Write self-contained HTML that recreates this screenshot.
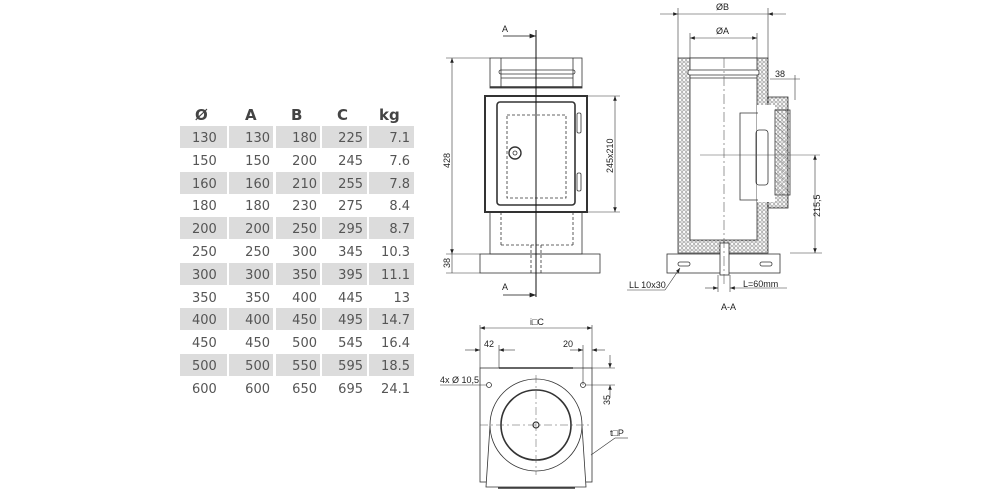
<!DOCTYPE html>
<html><head><meta charset="utf-8"><style>
html,body{margin:0;padding:0;background:#fff;width:1000px;height:500px;overflow:hidden}
svg{display:block}
.h{font:bold 15px "DejaVu Sans","Liberation Sans",sans-serif;fill:#444}
.t{font:13px "DejaVu Sans","Liberation Sans",sans-serif;fill:#555}
.d{font:9px "Liberation Sans",sans-serif;fill:#222}
</style></head><body>
<svg width="1000" height="500" viewBox="0 0 1000 500" xmlns="http://www.w3.org/2000/svg">
<defs>
<pattern id="ins" width="4" height="4" patternUnits="userSpaceOnUse">
<rect width="4" height="4" fill="#fff"/><circle cx="2" cy="2" r="1.3" fill="none" stroke="#777" stroke-width="0.6"/></pattern>
<pattern id="hat" width="6" height="6" patternUnits="userSpaceOnUse" patternTransform="rotate(-50)">
<line x1="0" y1="0" x2="0" y2="6" stroke="#555" stroke-width="0.7"/></pattern>
<marker id="ar" markerWidth="8" markerHeight="6" refX="8" refY="3" orient="auto-start-reverse"><path d="M0,0 L8,3 L0,6z" fill="#222"/></marker>
</defs>

<!-- TABLE -->
<g fill="#dcdcdc">
<rect x="180" y="126" width="47" height="22"/><rect x="229" y="126" width="44" height="22"/><rect x="276" y="126" width="44" height="22"/><rect x="322" y="126" width="45" height="22"/><rect x="369" y="126" width="45" height="22"/>
<rect x="180" y="172" width="47" height="22"/><rect x="229" y="172" width="44" height="22"/><rect x="276" y="172" width="44" height="22"/><rect x="322" y="172" width="45" height="22"/><rect x="369" y="172" width="45" height="22"/>
<rect x="180" y="217" width="47" height="22"/><rect x="229" y="217" width="44" height="22"/><rect x="276" y="217" width="44" height="22"/><rect x="322" y="217" width="45" height="22"/><rect x="369" y="217" width="45" height="22"/>
<rect x="180" y="263" width="47" height="22"/><rect x="229" y="263" width="44" height="22"/><rect x="276" y="263" width="44" height="22"/><rect x="322" y="263" width="45" height="22"/><rect x="369" y="263" width="45" height="22"/>
<rect x="180" y="308" width="47" height="22"/><rect x="229" y="308" width="44" height="22"/><rect x="276" y="308" width="44" height="22"/><rect x="322" y="308" width="45" height="22"/><rect x="369" y="308" width="45" height="22"/>
<rect x="180" y="354" width="47" height="22"/><rect x="229" y="354" width="44" height="22"/><rect x="276" y="354" width="44" height="22"/><rect x="322" y="354" width="45" height="22"/><rect x="369" y="354" width="45" height="22"/>
</g>
<text class="h" x="195" y="120">Ø</text><text class="h" x="245" y="120">A</text><text class="h" x="291" y="120">B</text><text class="h" x="337" y="120">C</text><text class="h" x="379" y="120">kg</text>
<g class="t">
<g text-anchor="start">
<text x="192" y="142">130</text><text x="192" y="165">150</text><text x="192" y="188">160</text><text x="192" y="210">180</text><text x="192" y="233">200</text><text x="192" y="256">250</text><text x="192" y="279">300</text><text x="192" y="302">350</text><text x="192" y="324">400</text><text x="192" y="347">450</text><text x="192" y="370">500</text><text x="192" y="393">600</text>
</g>
<g text-anchor="end">
<text x="270" y="142">130</text><text x="270" y="165">150</text><text x="270" y="188">160</text><text x="270" y="210">180</text><text x="270" y="233">200</text><text x="270" y="256">250</text><text x="270" y="279">300</text><text x="270" y="302">350</text><text x="270" y="324">400</text><text x="270" y="347">450</text><text x="270" y="370">500</text><text x="270" y="393">600</text>
<text x="317" y="142">180</text><text x="317" y="165">200</text><text x="317" y="188">210</text><text x="317" y="210">230</text><text x="317" y="233">250</text><text x="317" y="256">300</text><text x="317" y="279">350</text><text x="317" y="302">400</text><text x="317" y="324">450</text><text x="317" y="347">500</text><text x="317" y="370">550</text><text x="317" y="393">650</text>
<text x="363" y="142">225</text><text x="363" y="165">245</text><text x="363" y="188">255</text><text x="363" y="210">275</text><text x="363" y="233">295</text><text x="363" y="256">345</text><text x="363" y="279">395</text><text x="363" y="302">445</text><text x="363" y="324">495</text><text x="363" y="347">545</text><text x="363" y="370">595</text><text x="363" y="393">695</text>
<text x="410" y="142">7.1</text><text x="410" y="165">7.6</text><text x="410" y="188">7.8</text><text x="410" y="210">8.4</text><text x="410" y="233">8.7</text><text x="410" y="256">10.3</text><text x="410" y="279">11.1</text><text x="410" y="302">13</text><text x="410" y="324">14.7</text><text x="410" y="347">16.4</text><text x="410" y="370">18.5</text><text x="410" y="393">24.1</text>
</g></g>

<!-- FRONT VIEW -->
<g fill="none" stroke="#333" stroke-width="0.8">
<rect x="490" y="58" width="92" height="30"/>
<line x1="501" y1="58" x2="501" y2="88"/><line x1="573" y1="58" x2="573" y2="88"/>
<rect x="499" y="70" width="76" height="4" rx="2"/><line x1="501" y1="78" x2="573" y2="78"/>
<line x1="490" y1="87" x2="582" y2="87" stroke-width="1.5"/>
<rect x="485" y="96" width="102" height="116" stroke-width="2"/>
<rect x="497" y="102" width="78" height="103" rx="3" stroke-width="1.6"/>
<rect x="507" y="115" width="59" height="83" stroke-dasharray="3,2"/>
<circle cx="515" cy="153" r="6" stroke-width="1.4"/><circle cx="515" cy="153" r="2"/>
<rect x="577" y="113" width="4" height="20" rx="1.5"/><rect x="577" y="173" width="4" height="18" rx="1.5"/>
<rect x="490" y="212" width="92" height="42"/>
<line x1="501" y1="212" x2="501" y2="245" stroke-dasharray="3,2"/><line x1="573" y1="212" x2="573" y2="245" stroke-dasharray="3,2"/>
<line x1="501" y1="245" x2="573" y2="245" stroke-dasharray="3,2"/>
<rect x="480" y="254" width="120" height="19"/>
<line x1="531" y1="245" x2="531" y2="275" stroke-dasharray="3,2"/><line x1="541" y1="245" x2="541" y2="275" stroke-dasharray="3,2"/>
</g>
<line x1="536" y1="30" x2="536" y2="297" stroke="#111" stroke-width="1"/>
<line x1="503" y1="36" x2="536" y2="36" stroke="#111" stroke-width="0.8" marker-end="url(#ar)"/>
<line x1="503" y1="295" x2="536" y2="295" stroke="#111" stroke-width="0.8" marker-end="url(#ar)"/>
<text class="d" x="502" y="32">A</text><text class="d" x="502" y="290">A</text>
<g stroke="#333" stroke-width="0.6" fill="none">
<line x1="446" y1="58" x2="490" y2="58"/><line x1="446" y1="254" x2="480" y2="254"/><line x1="446" y1="273" x2="480" y2="273"/>
<line x1="452" y1="58" x2="452" y2="254" marker-start="url(#ar)" marker-end="url(#ar)"/>
<line x1="452" y1="254" x2="452" y2="273"/>
<line x1="587" y1="96" x2="620" y2="96"/><line x1="587" y1="212" x2="620" y2="212"/>
<line x1="615" y1="96" x2="615" y2="212" marker-start="url(#ar)" marker-end="url(#ar)"/>
</g>
<text class="d" transform="translate(450,168) rotate(-90)">428</text>
<text class="d" transform="translate(450,268) rotate(-90)">38</text>
<text class="d" transform="translate(613,173) rotate(-90)">245x210</text>

<!-- SECTION A-A -->
<g stroke="#333" stroke-width="0.8">
<rect x="678" y="58" width="90" height="195" fill="url(#ins)"/>
<rect x="690" y="58" width="67" height="182" fill="#fff"/>
<rect x="768" y="97" width="20" height="111" fill="url(#ins)"/>
<rect x="757" y="105" width="18" height="97" fill="#fff" stroke="none"/>
<rect x="775" y="110" width="15" height="85" fill="url(#hat)"/>
<path d="M758,113 H740 V200 H758" fill="none"/>
<rect x="756" y="130" width="12" height="55" rx="3" fill="none"/>
<rect x="688" y="70" width="71" height="5" rx="2" fill="#fff"/>
<line x1="690" y1="78" x2="757" y2="78"/>
<rect x="667" y="254" width="113" height="19" fill="#fff"/>
<rect x="720" y="243" width="9" height="32" fill="#fff"/>
<rect x="678" y="262" width="12" height="4" rx="2" fill="#fff"/>
<rect x="760" y="262" width="12" height="4" rx="2" fill="#fff"/>
</g>
<line x1="724" y1="58" x2="724" y2="285" stroke="#555" stroke-width="0.6" stroke-dasharray="10,3,2,3"/>
<line x1="700" y1="155" x2="820" y2="155" stroke="#555" stroke-width="0.6"/>
<g stroke="#333" stroke-width="0.6" fill="none">
<line x1="678" y1="8" x2="678" y2="58"/><line x1="768" y1="8" x2="768" y2="58"/>
<line x1="660" y1="14" x2="678" y2="14" marker-end="url(#ar)"/><line x1="678" y1="14" x2="768" y2="14"/><line x1="786" y1="14" x2="768" y2="14" marker-end="url(#ar)"/>
<line x1="690" y1="33" x2="690" y2="58"/><line x1="757" y1="33" x2="757" y2="58"/>
<line x1="690" y1="38" x2="757" y2="38" marker-start="url(#ar)" marker-end="url(#ar)"/>
<line x1="770" y1="79" x2="800" y2="79"/>
<line x1="795" y1="75" x2="795" y2="100"/>
<line x1="790" y1="253" x2="822" y2="253"/>
<line x1="815" y1="155" x2="815" y2="253" marker-start="url(#ar)" marker-end="url(#ar)"/>
<line x1="718" y1="275" x2="718" y2="292"/><line x1="730" y1="275" x2="730" y2="292"/>
<line x1="705" y1="288" x2="718" y2="288" marker-end="url(#ar)"/><line x1="787" y1="288" x2="730" y2="288" marker-end="url(#ar)"/>
<line x1="627" y1="290" x2="665" y2="290"/><line x1="665" y1="290" x2="680" y2="268" marker-end="url(#ar)"/>
</g>
<text class="d" x="716" y="10">ØB</text><text class="d" x="716" y="34">ØA</text><text class="d" x="775" y="77">38</text>
<text class="d" transform="translate(820,217) rotate(-90)">215,5</text>
<text class="d" x="629" y="288">LL 10x30</text><text class="d" x="743" y="287">L=60mm</text>
<text class="d" x="721" y="310" font-weight="bold">A-A</text>

<!-- BOTTOM VIEW -->
<g stroke="#333" stroke-width="0.8" fill="none">
<rect x="480" y="368" width="112" height="114"/>
<line x1="499" y1="368" x2="573" y2="368" stroke-width="1.5"/>
<path d="M490,426 L486,487 H586 L582,426" fill="#fff"/>
<circle cx="536" cy="425" r="46" fill="#fff"/>
<circle cx="536" cy="425" r="35" stroke-width="1.6"/>
<circle cx="536" cy="425" r="3" stroke-width="1.2"/>
<line x1="498" y1="488" x2="575" y2="488" stroke-width="1.5"/>
<circle cx="489" cy="385" r="2.5"/><circle cx="583" cy="385" r="2.5"/>
</g>
<g stroke="#555" stroke-width="0.5" stroke-dasharray="8,3,2,3">
<line x1="536" y1="375" x2="536" y2="475"/><line x1="480" y1="425" x2="592" y2="425"/>
</g>
<g stroke="#333" stroke-width="0.6" fill="none">
<line x1="480" y1="325" x2="480" y2="368"/><line x1="592" y1="325" x2="592" y2="368"/>
<line x1="480" y1="328" x2="592" y2="328" marker-start="url(#ar)" marker-end="url(#ar)"/>
<line x1="499" y1="345" x2="499" y2="368"/>
<line x1="465" y1="350" x2="480" y2="350" marker-end="url(#ar)"/><line x1="515" y1="350" x2="499" y2="350" marker-end="url(#ar)"/>
<line x1="583" y1="345" x2="583" y2="385"/>
<line x1="570" y1="350" x2="583" y2="350" marker-end="url(#ar)"/><line x1="605" y1="350" x2="592" y2="350" marker-end="url(#ar)"/>
<line x1="592" y1="368" x2="615" y2="368"/><line x1="586" y1="385" x2="615" y2="385"/>
<line x1="610" y1="355" x2="610" y2="368" marker-end="url(#ar)"/><line x1="610" y1="398" x2="610" y2="385" marker-end="url(#ar)"/>
<line x1="440" y1="385" x2="486" y2="385"/>
<line x1="591" y1="455" x2="615" y2="438"/><line x1="615" y1="438" x2="628" y2="438"/>
</g>
<text class="d" x="530" y="325">i□C</text><text class="d" x="484" y="347">42</text><text class="d" x="563" y="347">20</text>
<text class="d" transform="translate(610,405) rotate(-90)">35</text>
<text class="d" x="440" y="383">4x Ø 10,5</text><text class="d" x="610" y="436">t□P</text>
</svg>
</body></html>
